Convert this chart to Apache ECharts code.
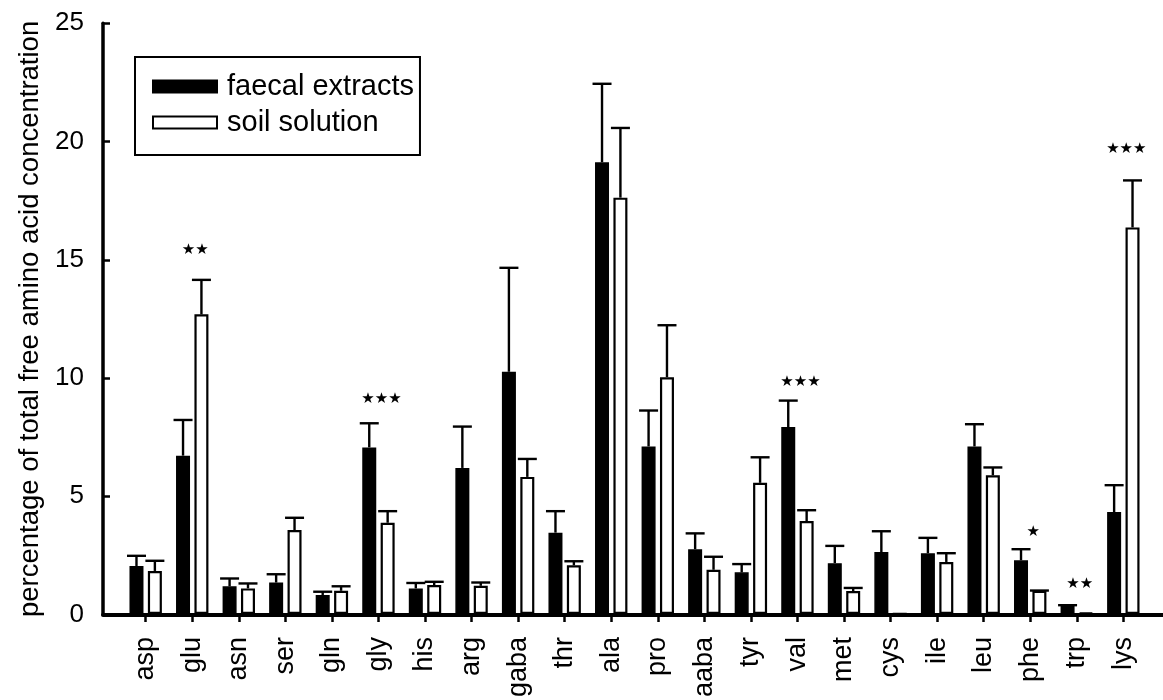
<!DOCTYPE html>
<html>
<head>
<meta charset="utf-8">
<title>Free amino acids</title>
<script src="https://cdn.jsdelivr.net/npm/echarts@6/dist/echarts.min.js"></script>
<style>
  html, body { margin: 0; padding: 0; background: #fff; }
  #chart { width: 1163px; height: 700px; }
</style>
</head>
<body>
<div id="chart"></div>
<script>
// amino acids on the x axis
const categories = ['asp', 'glu', 'asn', 'ser', 'gln', 'gly', 'his', 'arg', 'gaba', 'thr', 'ala',
  'pro', 'aaba', 'tyr', 'val', 'met', 'cys', 'ile', 'leu', 'phe', 'trp', 'lys']

// mean % of total free amino acids
const faecal = [2.03, 6.70, 1.17, 1.33, 0.80, 7.05, 1.08, 6.18, 10.25, 3.44, 19.12,
  7.09, 2.74, 1.76, 7.91, 2.15, 2.62, 2.57, 7.09, 2.27, 0.35, 4.31]
const faecalSE = [0.43, 1.51, 0.33, 0.35, 0.14, 1.02, 0.23, 1.75, 4.40, 0.91, 3.32,
  1.52, 0.67, 0.35, 1.12, 0.73, 0.88, 0.65, 0.94, 0.47, 0.02, 1.14]

const soil = [1.82, 12.68, 1.08, 3.55, 0.98, 3.86, 1.22, 1.19, 5.80, 2.06, 17.62,
  10.02, 1.87, 5.55, 3.93, 0.97, 0, 2.20, 5.87, 0.98, 0.05, 16.36]
const soilSE = [0.43, 1.46, 0.21, 0.52, 0.19, 0.49, 0.14, 0.14, 0.76, 0.17, 2.95,
  2.20, 0.55, 1.08, 0.46, 0.13, 0, 0.37, 0.33, 0.01, 0, 1.99]

// significance marks
const starCats = ['glu', 'gly', 'val', 'phe', 'trp', 'lys']
const starText = ['**', '***', '***', '*', '**', '***']
const starVals = [15.38, 9.08, 9.8, 3.45, 1.27, 19.66]

const yTicks = [0, 5, 10, 15, 20, 25]

const FONT = '"Liberation Sans", Arial, Helvetica, sans-serif'
const barW = 14
const barGapPx = 4.4
const barShift = (barW + barGapPx) / 2

const chart = echarts.init(document.getElementById('chart'), null, { renderer: 'canvas' })

const errorSeries = (name, means, ses, shift) => ({
  name: name + '-err',
  type: 'custom',
  xAxisIndex: 1,
  yAxisIndex: 1,
  silent: true,
  clip: false,
  z: 3,
  data: categories.map((c, i) => [i, means[i], ses[i]]),
  renderItem: (params, api) => {
    const se = api.value(2)
    const m = api.value(1)
    if (m <= 0 || (se <= 0 && m < 0.1)) return null
    const base = api.coord([api.value(0), m])
    const top = api.coord([api.value(0), m + se])
    const x = base[0] + shift
    const style = { stroke: '#000', lineWidth: 2.4 }
    return {
      type: 'group',
      children: [
        { type: 'line', shape: { x1: x, y1: base[1], x2: x, y2: top[1] }, style },
        { type: 'line', shape: { x1: x - 9.5, y1: top[1], x2: x + 9.5, y2: top[1] }, style }
      ]
    }
  }
})

const option = {
  animation: false,
  backgroundColor: '#fff',
  textStyle: { fontFamily: FONT, color: '#000' },
  grid: [
    { left: 103, right: 0, top: 23.3, bottom: 85.5 },
    { left: 122.4, right: 16.4, top: 23.3, bottom: 85.5 }
  ],
  legend: {
    orient: 'vertical',
    left: 135,
    top: 57,
    padding: [15, 6, 18, 17],
    itemGap: 7,
    itemWidth: 64,
    itemHeight: 12,
    icon: 'rect',
    borderColor: '#000',
    borderWidth: 2,
    textStyle: { fontFamily: FONT, fontSize: 29, color: '#000', padding: [0, 0, 0, 5] },
    data: ['faecal extracts', 'soil solution']
  },
  xAxis: [
    {
      type: 'value',
      gridIndex: 0,
      min: 0,
      max: 1,
      axisLine: { show: true, onZero: false, lineStyle: { color: '#000', width: 4 } },
      axisTick: { show: false },
      axisLabel: { show: false },
      splitLine: { show: false }
    },
    {
      type: 'category',
      gridIndex: 1,
      data: categories,
      axisLine: { show: false },
      axisTick: { show: true, alignWithLabel: true, length: 8, lineStyle: { color: '#000', width: 2.5 } },
      axisLabel: { rotate: 90, fontSize: 27, margin: 23, color: '#000', fontFamily: FONT, interval: 0 },
      splitLine: { show: false }
    }
  ],
  yAxis: [
    {
      type: 'value',
      gridIndex: 0,
      min: yTicks[0],
      max: yTicks[yTicks.length - 1],
      interval: 5,
      name: 'percentage of total free amino acid concentration',
      nameLocation: 'middle',
      nameGap: 56,
      nameTextStyle: { fontSize: 27.5, color: '#000', fontFamily: FONT },
      axisLine: { show: true, lineStyle: { color: '#000', width: 3.5 } },
      axisTick: { show: true, inside: true, length: 7, lineStyle: { color: '#000', width: 2.5 } },
      axisLabel: { fontSize: 26, margin: 19, color: '#000', fontFamily: FONT },
      splitLine: { show: false }
    },
    {
      type: 'value',
      gridIndex: 1,
      min: yTicks[0],
      max: yTicks[yTicks.length - 1],
      show: false,
      splitLine: { show: false }
    }
  ],
  series: [
    {
      name: 'faecal extracts',
      type: 'bar',
      xAxisIndex: 1,
      yAxisIndex: 1,
      barWidth: barW,
      barGap: (barGapPx / barW * 100).toFixed(1) + '%',
      itemStyle: { color: '#000', borderColor: '#000', borderWidth: 1.5 },
      data: faecal
    },
    {
      name: 'soil solution',
      type: 'bar',
      xAxisIndex: 1,
      yAxisIndex: 1,
      barWidth: barW,
      itemStyle: { color: '#fff', borderColor: '#000', borderWidth: 2.2 },
      data: soil
    },
    errorSeries('faecal', faecal, faecalSE, -barShift),
    errorSeries('soil', soil, soilSE, barShift),
    {
      name: 'stars',
      type: 'custom',
      xAxisIndex: 1,
      yAxisIndex: 1,
      silent: true,
      clip: false,
      z: 4,
      data: starCats.map((c, i) => [categories.indexOf(c), starVals[i], i]),
      renderItem: (params, api) => {
        const p = api.coord([api.value(0), api.value(1)])
        const txt = starText[api.value(2)].replace(/\*/g, '\u2605')
        return {
          type: 'text',
          style: {
            x: p[0] + 3,
            y: p[1],
            text: txt,
            fill: '#000',
            font: '15px "DejaVu Sans", sans-serif',
            textAlign: 'center',
            textVerticalAlign: 'middle'
          }
        }
      }
    }
  ]
}

chart.setOption(option)
</script>
</body>
</html>
